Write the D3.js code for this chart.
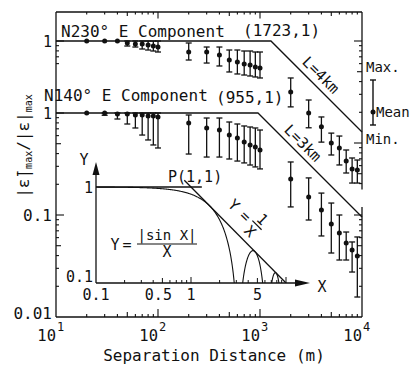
<!DOCTYPE html>
<html>
<head>
<meta charset="utf-8">
<script src="https://cdn.jsdelivr.net/npm/d3@7"></script>
<style>
  body { margin: 0; background: #fff; }
  text { font-family: "DejaVu Sans Mono", monospace; fill: #111; }
</style>
</head>
<body>
<svg id="chart" width="418" height="366"></svg>
<script>
// separation distances (m), same for both components
const distances = [20, 30, 40, 50, 60, 70, 80, 90, 100, 200, 300, 400, 500, 600, 700, 800, 900, 1000,
  2000, 3000, 4000, 5000, 6000, 7000, 8000, 9000];

// N230 E component (upper panel)
const n230Mean = [1, 1, 1, 0.956, 0.935, 0.935, 0.914, 0.893, 0.873, 0.78, 0.78, 0.729, 0.651, 0.622, 0.595, 0.582, 0.556, 0.544,
  0.316, 0.197, 0.144, 0.1, 0.0893, 0.0666, 0.0556, 0.0544];
const n230Max = [1, 1, 1, 1, 1, 1, 1, 1, 1, 0.956, 0.873, 0.873, 0.816, 0.816, 0.798, 0.798, 0.78, 0.78,
  0.434, 0.264, 0.18, 0.125, 0.117, 0.0854, 0.0713, 0.0681];
const n230Min = [1, 1, 1, 0.893, 0.873, 0.835, 0.816, 0.798, 0.78, 0.651, 0.608, 0.569, 0.497, 0.475, 0.464, 0.454, 0.444, 0.434,
  0.226, 0.141, 0.102, 0.0763, 0.0609, 0.0508, 0.0405, 0.0405];

// N140 E component (lower panel)
const n140Mean = [1, 1, 0.978, 0.978, 0.956, 0.956, 0.935, 0.935, 0.914, 0.798, 0.713, 0.681, 0.608, 0.569, 0.52, 0.486, 0.464, 0.434,
  0.226, 0.15, 0.112, 0.0816, 0.0666, 0.0532, 0.0454, 0.0396];
const n140Max = [1, 1, 1, 1, 1, 1, 1, 1, 1, 0.956, 0.893, 0.893, 0.816, 0.78, 0.746, 0.729, 0.713, 0.681,
  0.331, 0.231, 0.164, 0.131, 0.1, 0.0681, 0.0544, 0.0609];
const n140Min = [1, 0.95, 0.873, 0.78, 0.713, 0.608, 0.544, 0.486, 0.454, 0.396, 0.37, 0.37, 0.354, 0.338, 0.324, 0.309, 0.296, 0.283,
  0.12, 0.0893, 0.0623, 0.0424, 0.0362, 0.0362, 0.0276, 0.0157];

// model envelopes: flat at 1 then falling as 1/distance
const envelope4km = [[10, 1], [1280, 1], [10000, 0.128]];
const envelope3km = [[10, 1], [955, 1], [10000, 0.0955]];

// inset
const insetXTicks = [0.1, 0.5, 1, 5];
const insetFlat = [[0.1, 1], [1.3, 1]];
const insetInverse = [[0.85, 1 / 0.85], [10, 0.1]];

const svg = d3.select('#chart');
const ink = '#111';

const x = d3.scaleLog().domain([10, 10000]).range([56, 362]);
const yLow = d3.scaleLog().domain([0.01, 1]).range([317, 113]);
const yUp = d3.scaleLog().domain([0.01, 1]).range([245, 41]);

const frameTop = 12, frameBottom = 317, frameLeft = 56, frameRight = 362;

function seg(g, x1, y1, x2, y2, w) {
  g.append('line').attr('x1', x1).attr('y1', y1).attr('x2', x2).attr('y2', y2)
    .attr('stroke', ink).attr('stroke-width', w || 1.3);
}
function mant(v) {
  return Math.round(v / Math.pow(10, Math.floor(Math.log10(v) + 1e-9)));
}
function tickLen(v) {
  const m = mant(v);
  return m === 1 ? 8 : m === 5 ? 5 : 3;
}

// frame
const frame = svg.append('g');
seg(frame, frameLeft, frameTop, frameRight, frameTop);
seg(frame, frameLeft, frameTop, frameLeft, frameBottom);
seg(frame, frameLeft, frameBottom, frameRight, frameBottom);
seg(frame, frameRight, frameTop, frameRight, yUp(0.035));
seg(frame, frameRight, yLow(0.12), frameRight, frameBottom);

// x ticks (bottom and top, inward)
x.ticks().forEach(t => {
  if (t <= 10 || t >= 10000) return;
  seg(frame, x(t), frameBottom, x(t), frameBottom - tickLen(t), 1.1);
  seg(frame, x(t), frameTop, x(t), frameTop + tickLen(t) * 0.8, 1.1);
});

// y ticks
yLow.ticks().forEach(t => {
  if (t <= 0.01) return;
  seg(frame, frameLeft, yLow(t), frameLeft + tickLen(t), yLow(t), 1.1);
  if (t <= 0.1) seg(frame, frameRight, yLow(t), frameRight - tickLen(t), yLow(t), 1.1);
});
yUp.ticks().forEach(t => {
  if (t >= 0.6) seg(frame, frameLeft, yUp(t), frameLeft + tickLen(t), yUp(t), 1.1);
  if (t >= 0.04) seg(frame, frameRight, yUp(t), frameRight - tickLen(t), yUp(t), 1.1);
});

// tick labels
const fs = '15px';
[[yUp, 1, '1'], [yLow, 1, '1'], [yLow, 0.1, '0.1'], [yLow, 0.01, '0.01']].forEach(([s, v, lab]) => {
  svg.append('text').attr('x', 52).attr('y', s(v) - (v === 0.01 ? 4 : 0) + (lab === '1' ? 1 : 0)).attr('dy', '0.35em')
    .attr('text-anchor', 'end').style('font-size', lab === '1' ? '15px' : '16px').text(lab);
});
[1, 2, 3, 4].forEach(e => {
  const px = x(Math.pow(10, e));
  svg.append('text').attr('x', px).attr('y', 341).attr('text-anchor', 'end').style('font-size', '15.5px').text('10');
  svg.append('text').attr('x', px + 1).attr('y', 331).style('font-size', '12px').text(e);
});

svg.append('text').attr('x', 214).attr('y', 361).attr('text-anchor', 'middle').style('font-size', '16px')
  .text('Separation Distance (m)');

// y-axis title
const yt = svg.append('text').attr('transform', 'translate(29,146) rotate(-90)')
  .attr('text-anchor', 'middle').style('font-size', '16px');
yt.append('tspan').text('|ε\u0304|');
yt.append('tspan').attr('dy', 3).style('font-size', '10px').text('max');
yt.append('tspan').attr('dy', -3).text('/|ε|');
yt.append('tspan').attr('dy', 3).style('font-size', '10px').text('max');

// envelopes
const lineUp = d3.line().x(d => x(d[0])).y(d => yUp(d[1]));
const lineLow = d3.line().x(d => x(d[0])).y(d => yLow(d[1]));
svg.append('path').attr('d', lineUp(envelope4km)).attr('fill', 'none').attr('stroke', ink).attr('stroke-width', 1.3);
svg.append('path').attr('d', lineLow(envelope3km)).attr('fill', 'none').attr('stroke', ink).attr('stroke-width', 1.3);

// error bars
function bars(y, mean, max, min) {
  const rows = distances.map((d, i) => ({ d, mean: mean[i], max: max[i], min: min[i] }));
  const g = svg.append('g');
  rows.forEach(r => {
    const px = x(r.d);
    if (r.max !== r.min) {
      seg(g, px, y(r.max), px, y(r.min), 1.3);
      seg(g, px - 3, y(r.max), px + 3, y(r.max), 1.3);
      seg(g, px - 3, y(r.min), px + 3, y(r.min), 1.3);
    }
    g.append('circle').attr('cx', px).attr('cy', y(r.mean)).attr('r', 2.5).attr('fill', ink);
  });
}
bars(yUp, n230Mean, n230Max, n230Min);
bars(yLow, n140Mean, n140Max, n140Min);

// panel labels
svg.append('text').attr('x', 61).attr('y', 37).style('font-size', '16px').text('N230° E Component');
svg.append('text').attr('x', 243).attr('y', 36).style('font-size', '16px').text('(1723,1)');
svg.append('text').attr('x', 44).attr('y', 101).style('font-size', '16px').text('N140° E Component');
svg.append('text').attr('x', 216).attr('y', 103).style('font-size', '16px').text('(955,1)');
svg.append('text').attr('transform', 'translate(321,75) rotate(45)').attr('text-anchor', 'middle')
  .attr('dy', '0.35em').style('font-size', '15px').text('L=4km');
svg.append('text').attr('transform', 'translate(303,143) rotate(45)').attr('text-anchor', 'middle')
  .attr('dy', '0.35em').style('font-size', '15px').text('L=3km');

// legend
const lg = svg.append('g');
seg(lg, 373, 80, 373, 125, 1.4);
seg(lg, 370, 80, 376, 80, 1.4);
seg(lg, 370, 125, 376, 125, 1.4);
lg.append('circle').attr('cx', 373).attr('cy', 112).attr('r', 2.5).attr('fill', ink);
lg.append('text').attr('x', 366).attr('y', 67).attr('dy', '0.35em').style('font-size', '14px').text('Max.');
lg.append('text').attr('x', 376).attr('y', 112).attr('dy', '0.35em').style('font-size', '14px').text('Mean');
lg.append('text').attr('x', 366).attr('y', 139).attr('dy', '0.35em').style('font-size', '14px').text('Min.');

// inset
const ix = d3.scaleLog().domain([0.1, 1]).range([96, 191]);
const iy = d3.scaleLog().domain([0.1, 1]).range([283, 187]);
const ins = svg.append('g');
const ox = ix(0.1), oy = iy(0.1);
seg(ins, ox, oy, 300, oy);
seg(ins, ox, oy, ox, 170);
ins.append('path').attr('d', `M310,${oy} L295,${oy - 3.5} L295,${oy + 3.5} Z`).attr('fill', ink);
ins.append('path').attr('d', `M${ox},162 L${ox - 3.5},175 L${ox + 3.5},175 Z`).attr('fill', ink);
ix.copy().domain([0.1, 10]).range([ix(0.1), ix(10)]).ticks().forEach(t => {
  if (t <= 0.1) return;
  const m = mant(t);
  seg(ins, ix(t), oy, ix(t), oy - (m === 1 ? 6 : m === 5 ? 5 : 3), 1);
});
insetXTicks.forEach(t => {
  ins.append('text').attr('x', ix(t) - (t === 0.5 ? 4 : 0)).attr('y', 295).attr('dy', '0.35em').attr('text-anchor', 'middle')
    .style('font-size', fs).text(t);
});
ins.append('text').attr('x', 93).attr('y', iy(1) + 1).attr('dy', '0.35em').attr('text-anchor', 'end').style('font-size', fs).text('1');
ins.append('text').attr('x', 93).attr('y', 277).attr('dy', '0.35em').attr('text-anchor', 'end').style('font-size', fs).text('0.1');
ins.append('text').attr('x', 84).attr('y', 160).attr('dy', '0.35em').attr('text-anchor', 'middle').style('font-size', fs).text('Y');
ins.append('text').attr('x', 322).attr('y', 287).attr('dy', '0.35em').attr('text-anchor', 'middle').style('font-size', fs).text('X');

svg.append('clipPath').attr('id', 'insetClip').append('rect')
  .attr('x', ox).attr('y', 150).attr('width', 200).attr('height', oy - 150);
const iline = d3.line().x(d => ix(d[0])).y(d => iy(d[1]));
const sincPts = d3.range(0, 401).map(i => {
  const X = Math.pow(10, -1 + i * 2.05 / 400);
  return [X, Math.max(Math.abs(Math.sin(X)) / X, 1e-4)];
});
const ic = ins.append('g').attr('clip-path', 'url(#insetClip)');
ic.append('path').attr('d', iline(sincPts)).attr('fill', 'none').attr('stroke', ink).attr('stroke-width', 1.1);
ic.append('path').attr('d', iline(insetFlat)).attr('fill', 'none').attr('stroke', ink).attr('stroke-width', 1.3);
ic.append('path').attr('d', iline(insetInverse)).attr('fill', 'none').attr('stroke', ink).attr('stroke-width', 1.3);

ins.append('text').attr('x', 168).attr('y', 182).style('font-size', fs).text('P(1,1)');
ins.append('text').attr('x', 115).attr('y', 250).attr('text-anchor', 'middle').style('font-size', fs).text('Y');
ins.append('text').attr('x', 127).attr('y', 250).attr('text-anchor', 'middle').style('font-size', fs).text('=');
ins.append('text').attr('x', 167).attr('y', 240).attr('text-anchor', 'middle').style('font-size', '14px').text('|sin X|');
seg(ins, 137, 244, 197, 244, 1.2);
ins.append('text').attr('x', 167).attr('y', 257).attr('text-anchor', 'middle').style('font-size', fs).text('X');

const inv = ins.append('g').attr('transform', 'translate(234,205) rotate(45)');
inv.append('text').attr('x', 0).attr('y', 0).attr('dy', '0.35em').attr('text-anchor', 'middle').style('font-size', fs).text('Y');
inv.append('text').attr('x', 16).attr('y', 0).attr('dy', '0.35em').attr('text-anchor', 'middle').style('font-size', fs).text('=');
inv.append('text').attr('x', 30).attr('y', -10).attr('dy', '0.35em').attr('text-anchor', 'middle').style('font-size', fs).text('1');
seg(inv, 24, -2, 37, -2, 1.2);
inv.append('text').attr('x', 30).attr('y', 7).attr('dy', '0.35em').attr('text-anchor', 'middle').style('font-size', fs).text('X');
</script>
</body>
</html>
